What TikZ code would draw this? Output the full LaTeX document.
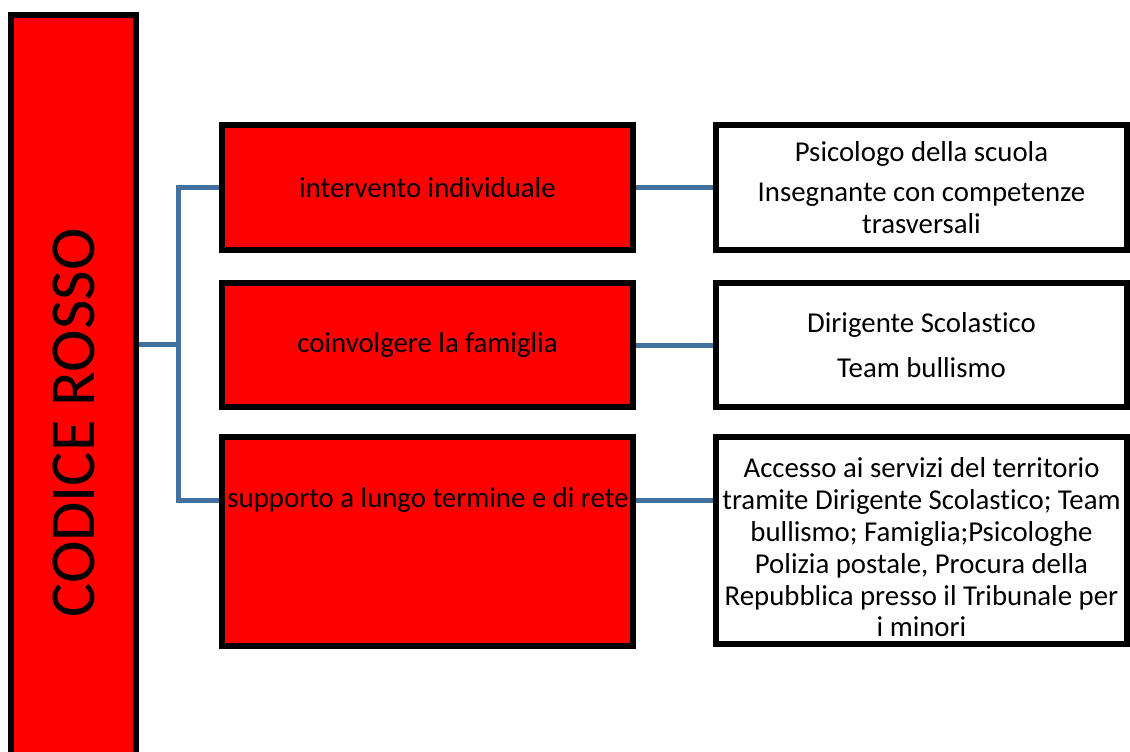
\documentclass[tikz,border=0pt]{standalone}
\usepackage{fontspec}
\setmainfont{Carlito}[Ligatures=NoCommon]
\usetikzlibrary{backgrounds}

\definecolor{linkblue}{RGB}{65,113,156}

\begin{document}
\begin{tikzpicture}[x=1bp, y=-1bp, line join=miter,
    redbox/.style={draw=black, line width=5.5bp, fill=red, inner sep=0pt},
    whitebox/.style={draw=black, line width=5.5bp, fill=white, inner sep=0pt},
    boxtext/.style={font=\fontsize{28.8bp}{31.8bp}\selectfont, align=center, inner sep=0pt},
    link/.style={draw=linkblue, line width=5bp}]

  \useasboundingbox (0,0) rectangle (1130,752);

  % Draw the code box on the left
  \node[redbox, minimum width=125bp, minimum height=816bp] (codice) at (73.5,423) {};
  \node[rotate=90, inner sep=0pt, font=\fontsize{64bp}{70bp}\selectfont] (codice-txt) at (codice.center) {CODICE ROSSO};

  % Draw the actions in the middle
  \node[redbox, boxtext, minimum width=411bp, minimum height=125bp] (act1) at (427.5,187.5) {intervento individuale};
  \node[redbox, boxtext, minimum width=411bp, minimum height=124bp] (act2) at (427.5,345) {coinvolgere la famiglia};
  \node[redbox, minimum width=411bp, minimum height=209bp] (act3) at (427.5,541.5) {};
  \node[boxtext] (act3-txt) at (428,500) {supporto a lungo termine e di rete};

  % Draw the people in charge on the right
  \node[whitebox, boxtext, minimum width=411bp, minimum height=125bp] (res1) at (921.5,187.5)
    {Psicologo della scuola\\[9bp] Insegnante con competenze\\ trasversali};
  \node[whitebox, boxtext, minimum width=411bp, minimum height=124bp] (res2) at (921.5,345)
    {Dirigente Scolastico\\[13bp] Team bullismo};
  \node[whitebox, minimum width=411bp, minimum height=207bp] (res3) at (921.5,540.5) {};
  \node[boxtext] (res3-txt) at (921.5,547.5)
    {Accesso ai servizi del territorio\\ tramite Dirigente Scolastico; Team\\ bullismo; Famiglia;Psicologhe\\
     Polizia postale, Procura della\\ Repubblica presso il Tribunale per\\ i minori};

  % Draw the links behind the boxes
  \begin{pgfonlayer}{background}
    \coordinate (fork) at (178,344);
    \draw[link] (codice.east |- fork) -- (fork);
    \draw[link] (act1.west) -| (fork) |- (act3.west |- act3-txt);
    \draw[link] (act1) -- (res1);
    \draw[link] (act2) -- (res2);
    \draw[link] (act3.east |- act3-txt) -- (res3.west |- act3-txt);
  \end{pgfonlayer}

\end{tikzpicture}
\end{document}
